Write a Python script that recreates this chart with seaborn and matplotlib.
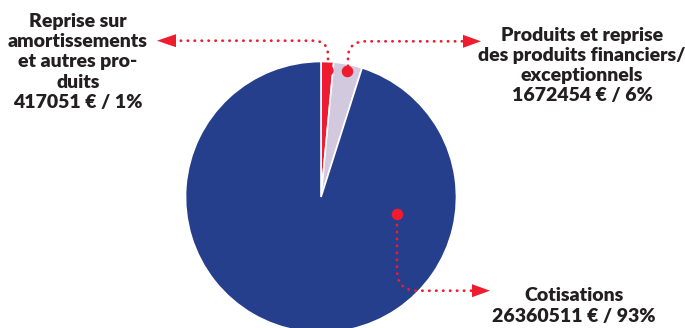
import matplotlib
matplotlib.use("Agg")
import matplotlib.pyplot as plt
import seaborn as sns
from matplotlib.path import Path
from matplotlib.patches import PathPatch, Polygon

# data
categories = ["Reprise sur\namortissements\net autres pro-\nduits",
              "Produits et reprise\ndes produits financiers/\nexceptionnels",
              "Cotisations"]
amounts = [417051, 1672454, 26360511]
pct_labels = ["1%", "6%", "93%"]
# slice sizes as drawn in the picture (in %)
shares = [1.5, 3.4, 95.1]
colors = ["#ee1c33", "#d2c9de", "#253f8c"]

sns.set_theme(style="white")
plt.rcParams['font.family'] = ['Lato', 'DejaVu Sans']

W, H = 685, 328
fig = plt.figure(figsize=(W / 100, H / 100), dpi=100)
ax = fig.add_axes([0, 0, 1, 1])

def y(v):
    # pixel row (from top) -> axis coordinate
    return H - v

ax.pie(shares, colors=colors, startangle=90, counterclock=False,
       center=(321, y(197)), radius=135.5,
       wedgeprops=dict(edgecolor="white", linewidth=1.2))
ax.set_xlim(0, W)
ax.set_ylim(0, H)
ax.set_aspect("equal")
ax.axis("off")

red = "#ee1c2e"
txt = "#231f20"

def connector(verts, codes, tip, base_x):
    p = Path([(vx, y(vy)) for vx, vy in verts], codes)
    ax.add_patch(PathPatch(p, fill=False, edgecolor=red, linewidth=2,
                           linestyle=(0, (0.1, 2.4)), capstyle="round"))
    tx, ty = tip
    ax.add_patch(Polygon([(tx, y(ty)), (base_x, y(ty) + 6.5), (base_x, y(ty) - 6.5)],
                         closed=True, color=red, lw=0))

M, L, Q = Path.MOVETO, Path.LINETO, Path.CURVE3

# red slice -> left label
connector([(328, 66), (328, 55), (328, 40.7), (313, 40.7), (177, 40.7)],
          [M, L, Q, Q, L], (157, 40.7), 176)
ax.plot(328, y(70), "o", color=red, markersize=6.5)

# lavender slice -> top right label
connector([(348, 66), (348, 58), (348, 41.3), (366, 41.3), (463, 41.3)],
          [M, L, Q, Q, L], (481, 41.3), 463)
ax.plot(347, y(70.5), "o", color=red, markersize=7.3)

# blue slice -> bottom label
connector([(397, 218), (397, 270), (397, 290.7), (417, 290.7), (472, 290.7)],
          [M, L, Q, Q, L], (490, 290.7), 472)
ax.plot(397, y(214), "o", color=red, markersize=7.3)

label_pos = [(78, 62), (582, 65.5), (574, 306)]
for cat, amt, pct, (lx, ly) in zip(categories, amounts, pct_labels, label_pos):
    ax.text(lx, y(ly), f"{cat}\n{amt} € / {pct}", ha="center", va="center",
            fontsize=14, fontweight="heavy", color=txt, linespacing=1.22)

fig.savefig("out.png", dpi=100)
